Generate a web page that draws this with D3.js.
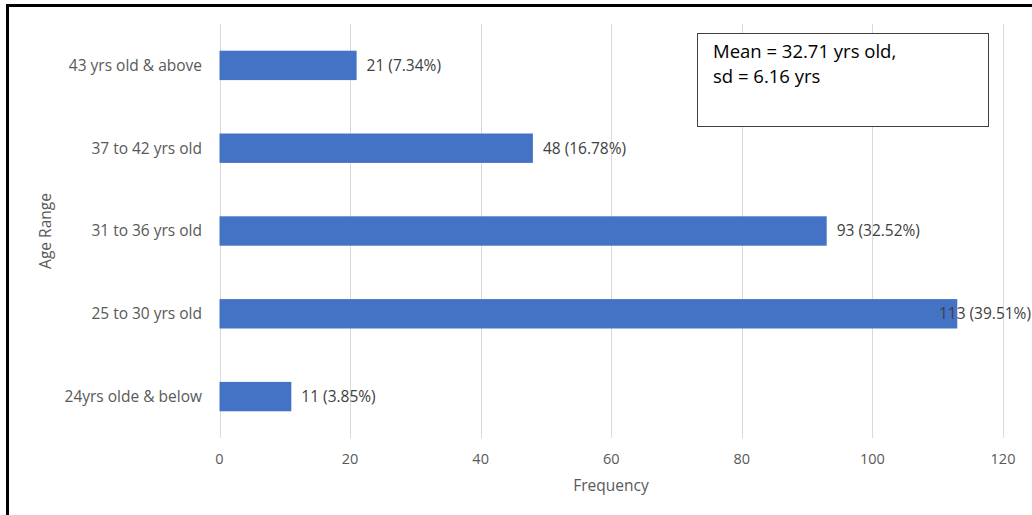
<!DOCTYPE html>
<html><head><meta charset="utf-8">
<script src="https://cdn.jsdelivr.net/npm/d3@7"></script>
<style>body{margin:0;background:#fff;}svg{display:block;}</style>
</head><body>
<script>
const categories = ["43 yrs old & above","37 to 42 yrs old","31 to 36 yrs old","25 to 30 yrs old","24yrs olde & below"];
const counts = [21,48,93,113,11];
const labels = ["21 (7.34%)","48 (16.78%)","93 (32.52%)","113 (39.51%)","11 (3.85%)"];
const xTicks = [0,20,40,60,80,100,120];
const noteLines = ["Mean = 32.71 yrs old,","sd = 6.16 yrs"];

const W=1032,H=515;
const font="'Open Sans', 'Noto Sans', sans-serif";
const svg=d3.select("body").append("svg").attr("width",W).attr("height",H);
svg.append("rect").attr("width",W).attr("height",H).attr("fill","#fff");

const x=d3.scaleLinear().domain([0,120]).range([219.5,1003]);
const y=d3.scaleBand().domain(categories).range([24,438]).paddingInner(0.645).paddingOuter(0.3225);

// gridlines
svg.append("g").selectAll("line").data(xTicks).join("line")
  .attr("x1",d=>Math.round(x(d))+0.5).attr("x2",d=>Math.round(x(d))+0.5)
  .attr("y1",24).attr("y2",438).attr("stroke","#d9d9d9").attr("stroke-width",1);

// bars
svg.append("g").selectAll("rect").data(categories).join("rect")
  .attr("x",x(0)).attr("y",d=>y(d)).attr("width",(d,i)=>x(counts[i])-x(0))
  .attr("height",y.bandwidth()).attr("fill","#4472C4");

// data labels
const lg=svg.append("g").attr("font-family",font).attr("font-size",15.5).attr("fill","#404040");
lg.selectAll("text").data(categories).join("text")
  .attr("y",d=>y(d)+y.bandwidth()/2).attr("dy","0.35em")
  .text((d,i)=>labels[i])
  .each(function(d,i){
    const w=this.getComputedTextLength();
    let px=x(counts[i])+10;
    if(px+w>W-1) px=W-1-w;
    d3.select(this).attr("x",px);
  });

// category labels
svg.append("g").selectAll("text").data(categories).join("text")
  .attr("x",202).attr("y",d=>y(d)+y.bandwidth()/2).attr("dy","0.35em")
  .attr("text-anchor","end").attr("font-family",font).attr("font-size",15.5).attr("fill","#595959")
  .text(d=>d);

// x tick labels
svg.append("g").selectAll("text").data(xTicks).join("text")
  .attr("x",d=>x(d)).attr("y",464).attr("text-anchor","middle")
  .attr("font-family",font).attr("font-size",14.5).attr("fill","#595959").text(d=>d);

// axis titles
svg.append("text").attr("x",611).attr("y",491).attr("text-anchor","middle")
  .attr("font-family",font).attr("font-size",15.5).attr("fill","#595959").text("Frequency");
svg.append("text").attr("transform","translate(51,231) rotate(-90)").attr("text-anchor","middle")
  .attr("font-family",font).attr("font-size",15.5).attr("fill","#595959").text("Age Range");

// note box
svg.append("rect").attr("x",697.5).attr("y",33.5).attr("width",291).attr("height",93)
  .attr("fill","#fff").attr("stroke","#404040").attr("stroke-width",1);
svg.append("g").selectAll("text").data(noteLines).join("text")
  .attr("x",713).attr("y",(d,i)=>58+i*25).attr("font-family",font).attr("font-size",18.5).attr("fill","#000")
  .text(d=>d);

// outer frame
svg.append("line").attr("x1",6).attr("x2",W).attr("y1",5.5).attr("y2",5.5).attr("stroke","#000").attr("stroke-width",3);
svg.append("line").attr("x1",7.5).attr("x2",7.5).attr("y1",4).attr("y2",H).attr("stroke","#000").attr("stroke-width",3);
</script>
</body></html>
